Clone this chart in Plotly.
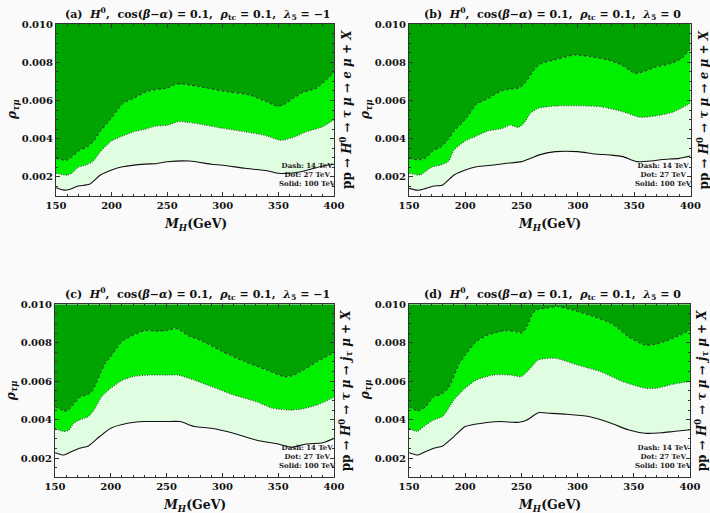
import plotly.graph_objects as go

# ---------------- data ----------------
# Panel (a)
a_dash_x = [150,157,160,164,171.6,177.5,183.5,189.5,198.5,210.5,219.5,231.5,240.5,249.4,258.4,263,279.3,300.3,324.3,339.2,348.2,354.2,363.2,372.2,384.1,400]
a_dash_y = [0.00297,0.00288,0.00288,0.00303,0.00341,0.00355,0.00384,0.00436,0.00498,0.00585,0.00611,0.00646,0.00658,0.00664,0.00686,0.00686,0.00672,0.00649,0.00628,0.00593,0.00571,0.00576,0.00611,0.00643,0.00664,0.00745]
a_dot_x = [150,157,160,165,170,177,183,190,200,210,220,230,240,250,260,270,280,300,320,340,350,355,365,375,390,400]
a_dot_y = [0.00219,0.00210,0.00209,0.00222,0.00250,0.00262,0.00279,0.00332,0.00388,0.00414,0.00436,0.00449,0.00466,0.00470,0.00489,0.00484,0.00475,0.00454,0.00436,0.00414,0.00393,0.00393,0.00410,0.00436,0.00463,0.00498]
a_sol_x = [150,157,162,170,180,190,200,210,230,240,250,270,290,300,320,340,350,360,370,390,400]
a_sol_y = [0.00143,0.00131,0.00134,0.00152,0.00161,0.00210,0.00236,0.00253,0.00267,0.00269,0.00279,0.00283,0.00266,0.00261,0.00245,0.00232,0.00219,0.00219,0.00227,0.00257,0.00266]

# Panel (b)
b_dash_x = [150,157,160,165,172,178,184,190,200,210,220,232,240,247,253,262,268,279,297,310,327,339,350.5,356.4,368.3,383,392,400]
b_dash_y = [0.00297,0.00290,0.00290,0.00300,0.00340,0.00355,0.00390,0.00440,0.00500,0.00580,0.00610,0.00650,0.00660,0.00664,0.00690,0.00768,0.00794,0.00812,0.00838,0.00830,0.00812,0.00785,0.00742,0.00747,0.00773,0.00794,0.00820,0.00869]
b_dot_x = [150,160,170,178,185,190,200,210,220,232,240,247,252,258,265,280,300,320,340,355,370,385,400]
b_dot_y = [0.00219,0.00210,0.00250,0.00262,0.00280,0.00340,0.00388,0.00414,0.00440,0.00452,0.00470,0.00459,0.00480,0.00533,0.00559,0.00571,0.00572,0.00567,0.00541,0.00512,0.00520,0.00540,0.00585]
b_sol_x = [150,158,165,172,180,190,200,210,225,235,250,258,265,280,300,315,330,340,352,365,375,390,400]
b_sol_y = [0.00140,0.00130,0.00140,0.00152,0.00158,0.00210,0.00236,0.00253,0.00262,0.00270,0.00280,0.00297,0.00314,0.00332,0.00332,0.00320,0.00314,0.00306,0.00280,0.00283,0.00291,0.00297,0.00309]

# Panel (c)
c_dash_x = [150,158,162,167,172,178,183,190,195,200,210,220,230,240,250,258,262,270,280,300,320,340,355,362,370,385,400]
c_dash_y = [0.00468,0.00445,0.00450,0.00481,0.00516,0.00528,0.00546,0.00632,0.00693,0.00728,0.00806,0.00840,0.00863,0.00861,0.00863,0.00875,0.00866,0.00835,0.00814,0.00754,0.00702,0.00658,0.00624,0.00627,0.00650,0.00702,0.00749]
c_dot_x = [150,157,162,167,172,180,185,192,200,210,220,235,250,260,270,290,310,330,345,360,370,385,400]
c_dot_y = [0.00355,0.00338,0.00343,0.00381,0.00398,0.00416,0.00450,0.00520,0.00563,0.00603,0.00624,0.00632,0.00632,0.00632,0.00615,0.00572,0.00528,0.00494,0.00459,0.00450,0.00454,0.00476,0.00516]
c_sol_x = [150,158,165,172,180,190,200,215,230,250,262,275,290,310,330,350,362,375,390,400]
c_sol_y = [0.00228,0.00216,0.00234,0.00251,0.00263,0.00312,0.00355,0.00381,0.00390,0.00390,0.00390,0.00364,0.00355,0.00329,0.00294,0.00273,0.00256,0.00273,0.00280,0.00303]

# Panel (d)
d_dash_x = [150,158,165,172,178,185,195,210,220,235,245,250,255,260,265,272,282,295,310,330,345,360,370,385,400]
d_dash_y = [0.00468,0.00445,0.00468,0.00520,0.00530,0.00563,0.00693,0.00806,0.00840,0.00863,0.00858,0.00850,0.00884,0.00953,0.00974,0.00980,0.00988,0.00971,0.00945,0.00901,0.00832,0.00788,0.00793,0.00823,0.00866]
d_dot_x = [150,157,165,172,180,190,200,210,225,240,250,258,265,280,300,320,340,360,370,385,400]
d_dot_y = [0.00355,0.00338,0.00372,0.00398,0.00416,0.00502,0.00563,0.00606,0.00632,0.00632,0.00624,0.00667,0.00710,0.00719,0.00684,0.00650,0.00598,0.00563,0.00563,0.00584,0.00598]
d_sol_x = [150,158,165,172,180,190,200,215,230,248,255,265,275,290,310,330,345,360,375,385,400]
d_sol_y = [0.00228,0.00216,0.00234,0.00251,0.00263,0.00312,0.00364,0.00381,0.00390,0.00386,0.00398,0.00436,0.00433,0.00428,0.00416,0.00381,0.00347,0.00329,0.00332,0.00338,0.00347]

x_range = [150, 400]
y_range = [0.001, 0.010]
x_ticks = [150, 200, 250, 300, 350, 400]
y_ticks = [0.002, 0.004, 0.006, 0.008, 0.010]

titles = [
    "(a)  <i>H</i><sup>0</sup>,  cos(<i>β</i>−<i>α</i>) = 0.1,  <i>ρ</i><sub>tc</sub> = 0.1,  <i>λ</i><sub>5</sub> = −1",
    "(b)  <i>H</i><sup>0</sup>,  cos(<i>β</i>−<i>α</i>) = 0.1,  <i>ρ</i><sub>tc</sub> = 0.1,  <i>λ</i><sub>5</sub> = 0",
    "(c)  <i>H</i><sup>0</sup>,  cos(<i>β</i>−<i>α</i>) = 0.1,  <i>ρ</i><sub>tc</sub> = 0.1,  <i>λ</i><sub>5</sub> = −1",
    "(d)  <i>H</i><sup>0</sup>,  cos(<i>β</i>−<i>α</i>) = 0.1,  <i>ρ</i><sub>tc</sub> = 0.1,  <i>λ</i><sub>5</sub> = 0",
]
right_labels = [
    "pp → <i>H</i><sup>0</sup> → <i>τ μ</i> → <i>e μ</i> + <i>X</i>",
    "pp → <i>H</i><sup>0</sup> → <i>τ μ</i> → <i>e μ</i> + <i>X</i>",
    "pp → <i>H</i><sup>0</sup> → <i>τ μ</i> → <i>j</i><sub><i>τ</i></sub> <i>μ</i> + <i>X</i>",
    "pp → <i>H</i><sup>0</sup> → <i>τ μ</i> → <i>j</i><sub><i>τ</i></sub> <i>μ</i> + <i>X</i>",
]
legend_text = "Dash: 14 TeV<br>Dot: 27 TeV<br>Solid: 100 TeV"

panels = [
    (a_dash_x, a_dash_y, a_dot_x, a_dot_y, a_sol_x, a_sol_y),
    (b_dash_x, b_dash_y, b_dot_x, b_dot_y, b_sol_x, b_sol_y),
    (c_dash_x, c_dash_y, c_dot_x, c_dot_y, c_sol_x, c_sol_y),
    (d_dash_x, d_dash_y, d_dot_x, d_dot_y, d_sol_x, d_sol_y),
]

# ---------------- layout geometry (pixels) ----------------
W, H = 710, 513
boxes = [  # left, right, top, bottom
    (56, 334, 24, 196),
    (409, 690.5, 24, 196),
    (55, 334, 304.3, 477.3),
    (409, 690, 304.3, 477.3),
]

DARK = "rgb(0,163,0)"
BRIGHT = "rgb(0,240,0)"
PALE = "rgb(225,253,225)"
BG = "#fafafa"
FONT = "DejaVu Serif"

fig = go.Figure()
layout_axes = {}
annotations = []

for i, (data, box) in enumerate(zip(panels, boxes)):
    dx, dy, ox, oy, sx, sy = data
    k = "" if i == 0 else str(i + 1)
    xa, ya = "x" + k, "y" + k
    L, R, T, B = box
    common = dict(xaxis=xa, yaxis=ya, mode="lines", showlegend=False, hoverinfo="skip")
    fig.add_trace(go.Scatter(x=x_range, y=[y_range[1]] * 2, line=dict(width=0, color=DARK), **common))
    fig.add_trace(go.Scatter(x=dx, y=dy, fill="tonexty", fillcolor=DARK,
                             line=dict(color="#222", width=0.9, dash="3px,2px", shape="spline", smoothing=0.6), **common))
    fig.add_trace(go.Scatter(x=ox, y=oy, fill="tonexty", fillcolor=BRIGHT,
                             line=dict(color="#333", width=1, dash="1px,1.5px", shape="spline", smoothing=0.6), **common))
    fig.add_trace(go.Scatter(x=sx, y=sy, fill="tonexty", fillcolor=PALE,
                             line=dict(color="#111", width=1.1, shape="spline", smoothing=0.6), **common))

    axstyle = dict(showline=True, mirror="allticks", linecolor="#333", linewidth=1, automargin=False,
                   ticks="inside", ticklen=4, tickcolor="#333", showgrid=False, zeroline=False,
                   tickfont=dict(family=FONT, size=10, color="#111", weight="bold"))
    layout_axes["xaxis" + k] = dict(domain=[L / W, R / W], range=x_range, anchor=ya,
                                    tickvals=x_ticks, ticklabelstandoff=0,
                                    minor=dict(ticks="inside", ticklen=2, dtick=10, tickcolor="#333"),
                                    **axstyle)
    layout_axes["yaxis" + k] = dict(domain=[1 - B / H, 1 - T / H], range=y_range, anchor=xa,
                                    tickvals=y_ticks, tickformat=".3f", ticklabelstandoff=0,
                                    minor=dict(ticks="inside", ticklen=2, dtick=0.0005, tickcolor="#333"),
                                    **axstyle)

    cx = (L + R) / 2
    annotations.append(dict(text="<b>" + titles[i] + "</b>", x=(cx + 3) / W, y=1 - (T - 10) / H,
                            xref="paper", yref="paper", showarrow=False, xanchor="center", yanchor="middle",
                            font=dict(family=FONT, size=11, color="#111")))
    annotations.append(dict(text="<b><i>M</i><sub><i>H</i></sub>(GeV)</b>", x=cx / W, y=1 - (B + 28) / H,
                            xref="paper", yref="paper", showarrow=False, xanchor="center", yanchor="middle",
                            font=dict(family=FONT, size=12.5, color="#111")))
    annotations.append(dict(text="<b><i>ρ</i><sub><i>τμ</i></sub></b>", x=(L - 43) / W, y=1 - (T + 86) / H,
                            xref="paper", yref="paper", showarrow=False, xanchor="center", yanchor="middle",
                            textangle=-90, font=dict(family=FONT, size=12, color="#111")))
    annotations.append(dict(text="<b>" + right_labels[i] + "</b>", x=(R + 12) / W, y=1 - (T + 86) / H,
                            xref="paper", yref="paper", showarrow=False, xanchor="center", yanchor="middle",
                            textangle=-90, font=dict(family=FONT, size=12, color="#111")))
    annotations.append(dict(text="<b>" + legend_text + "</b>", x=(R - 27) / W, y=1 - (B - 21) / H,
                            xref="paper", yref="paper", showarrow=False, xanchor="center", yanchor="middle",
                            align="center", font=dict(family=FONT, size=7, color="#222")))

fig.update_layout(width=W, height=H, margin=dict(l=0, r=0, t=0, b=0, autoexpand=False),
                  paper_bgcolor=BG, plot_bgcolor=BG, annotations=annotations, **layout_axes)

fig.write_html("out.html")
